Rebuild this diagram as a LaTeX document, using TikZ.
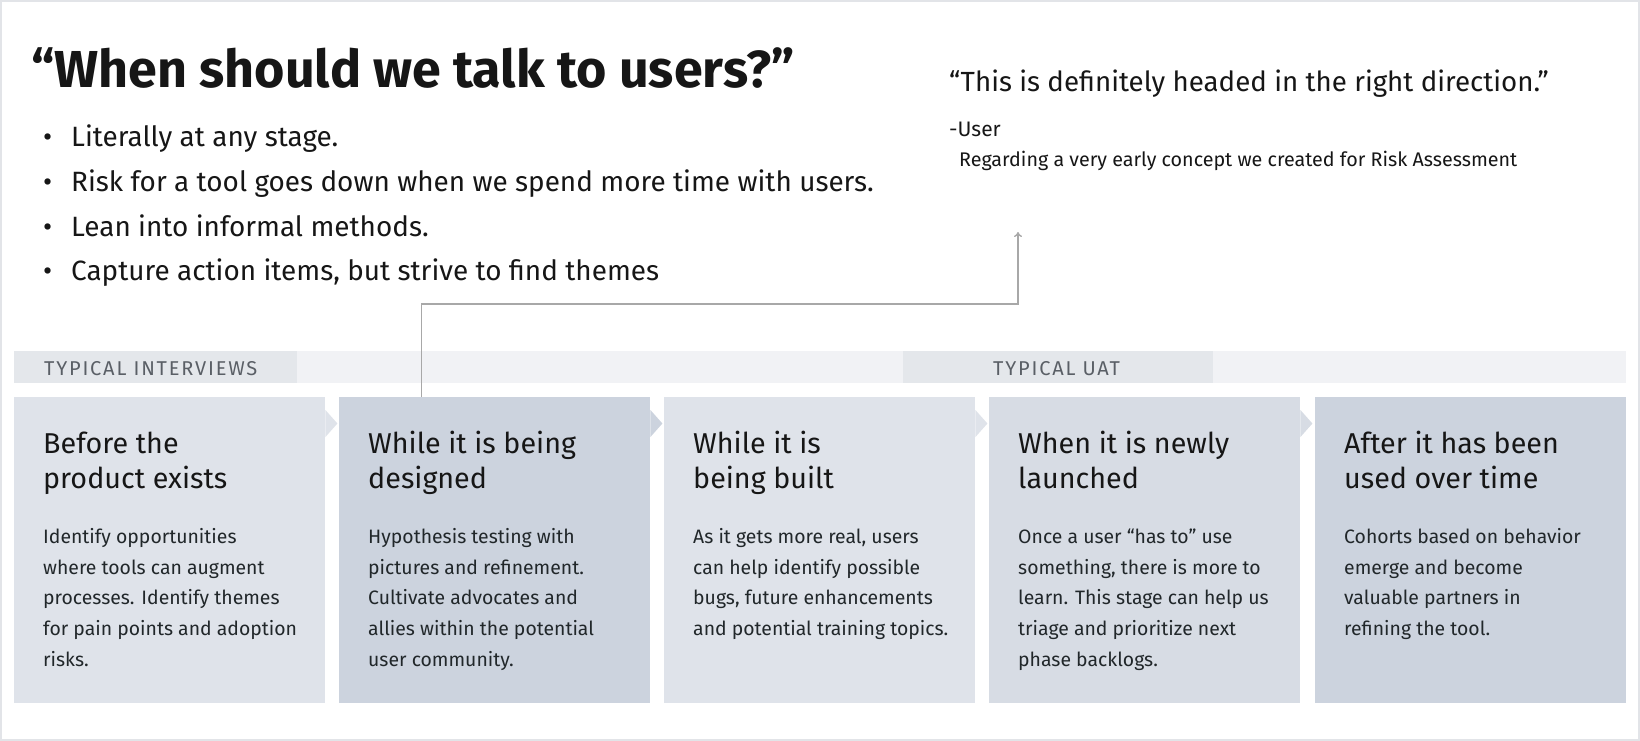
\documentclass[tikz,border=0pt]{standalone}
\usepackage{fontspec}
\setmainfont{Fira Sans}
\newfontfamily\tabfont[LetterSpace=9]{Fira Sans}
\usetikzlibrary{calc,arrows.meta}

\definecolor{framegray}{HTML}{E2E4E8}
\definecolor{bandgray}{HTML}{F1F2F5}
\definecolor{tabgray}{HTML}{E4E7EB}
\definecolor{boxlight}{HTML}{DFE3EA}
\definecolor{boxmid}{HTML}{D7DCE4}
\definecolor{boxdark}{HTML}{CCD3DE}
\definecolor{inkdark}{HTML}{161616}
\definecolor{inkbody}{HTML}{21272A}
\definecolor{tabink}{HTML}{5A5F66}
\definecolor{linkgray}{HTML}{A8A8A8}

\begin{document}
\begin{tikzpicture}[x=1pt,y=-1pt,
  stagebox/.style={inner sep=0pt,minimum width=311pt,minimum height=306pt,anchor=north west},
  stagehead/.style={anchor=base west,inner sep=0pt,align=left,text=inkdark,
    font=\fontsize{28.7}{35}\selectfont},
  stagetext/.style={anchor=base west,inner sep=0pt,align=left,text=inkbody,
    font=\fontsize{19.4}{30.7}\selectfont},
  tablabel/.style={anchor=base west,inner sep=0pt,text=tabink,font=\tabfont\fontsize{20}{22}\selectfont},
  link/.style={draw=linkgray,line width=1.4pt,-{To[length=5pt,width=8pt]}}]
\useasboundingbox (0,0) rectangle (1640,741);
\fill[white] (0,0) rectangle (1640,741);
\draw[framegray,line width=2pt] (1,1) rectangle (1639,740);
% Drawing heading and points (multi-line nodes sit on their last baseline)
\node[anchor=base west,inner sep=0pt,text=inkdark,font=\fontsize{52}{60}\bfseries\selectfont]
  (title) at (31,87.3) {“When should we talk to users?”};
\node[anchor=base west,inner sep=0pt,align=left,text=inkdark,font=\fontsize{27.9}{44.7}\selectfont]
  (points) at (43,280.8) {%
  \makebox[28pt][l]{•}Literally at any stage.\\
  \makebox[28pt][l]{•}Risk for a tool goes down when we spend more time with users.\\
  \makebox[28pt][l]{•}Lean into informal methods.\\
  \makebox[28pt][l]{•}Capture action items, but strive to find themes};
% Drawing quote
\node[anchor=base west,inner sep=0pt,text=inkdark,font=\fontsize{27.7}{32}\selectfont]
  (quote) at (949,91.7) {“This is definitely headed in the right direction.”};
\node[anchor=base west,inner sep=0pt,text=inkdark,font=\fontsize{21}{24}\selectfont]
  (who) at (949,136.7) {-User};
\node[anchor=base west,inner sep=0pt,text=inkdark,font=\fontsize{19.7}{22}\selectfont]
  (about) at (959,166.7) {Regarding a very early concept we created for Risk Assessment};
\coordinate (quotetip) at (1018,232);
% Drawing band
\fill[bandgray] (14,351) rectangle (1626,383);
\fill[tabgray] (14,351) rectangle (297,383);
\fill[tabgray] (903,351) rectangle (1213,383);
\node[tablabel] (interviews) at (44,375) {TYPICAL INTERVIEWS};
\node[tablabel] (uat) at (993,375) {TYPICAL UAT};
% Drawing stages
\node[stagebox,fill=boxlight] (stage1) at (14,397) {};
\node[stagebox,fill=boxdark] (stage2) at (339,397) {};
\node[stagebox,fill=boxlight] (stage3) at (664,397) {};
\node[stagebox,fill=boxmid] (stage4) at (989,397) {};
\node[stagebox,fill=boxdark] (stage5) at (1315,397) {};
\fill[boxlight] ($(stage1.north east)+(0,13)$) -- ++(12,13.5) -- ++(-12,13.5) -- cycle;
\fill[boxdark] ($(stage2.north east)+(0,13)$) -- ++(12,13.5) -- ++(-12,13.5) -- cycle;
\fill[boxlight] ($(stage3.north east)+(0,13)$) -- ++(12,13.5) -- ++(-12,13.5) -- cycle;
\fill[boxmid] ($(stage4.north east)+(0,13)$) -- ++(12,13.5) -- ++(-12,13.5) -- cycle;
\node[stagehead] (head1) at ($(stage1.north west)+(29,91.3)$) {Before the\\product exists};
\node[stagehead] (head2) at ($(stage2.north west)+(29,91.3)$) {While it is being\\designed};
\node[stagehead] (head3) at ($(stage3.north west)+(29,91.3)$) {While it is\\being built};
\node[stagehead] (head4) at ($(stage4.north west)+(29,91.3)$) {When it is newly\\launched};
\node[stagehead] (head5) at ($(stage5.north west)+(29,91.3)$) {After it has been\\used over time};
\node[stagetext] (text1) at ($(stage1.north west)+(29,269.1)$)
  {Identify opportunities\\where tools can augment\\processes. Identify themes\\for pain points and adoption\\risks.};
\node[stagetext] (text2) at ($(stage2.north west)+(29,269.1)$)
  {Hypothesis testing with\\pictures and refinement.\\Cultivate advocates and\\allies within the potential\\user community.};
\node[stagetext] (text3) at ($(stage3.north west)+(29,238.4)$)
  {As it gets more real, users\\can help identify possible\\bugs, future enhancements\\and potential training topics.};
\node[stagetext] (text4) at ($(stage4.north west)+(29,269.1)$)
  {Once a user “has to” use\\something, there is more to\\learn. This stage can help us\\triage and prioritize next\\phase backlogs.};
\node[stagetext] (text5) at ($(stage5.north west)+(29,238.4)$)
  {Cohorts based on behavior\\emerge and become\\valuable partners in\\refining the tool.};
% Drawing link to quote
\draw[link] ($(stage2.north west)+(82.5,0)$) -- ++(0,-93) -| (quotetip);
\end{tikzpicture}
\end{document}
